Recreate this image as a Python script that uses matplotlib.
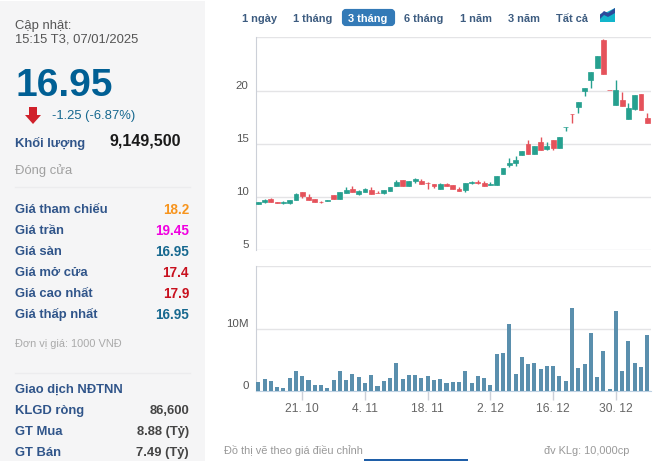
import matplotlib
matplotlib.use('Agg')
import matplotlib.pyplot as plt
from matplotlib.patches import Rectangle, Polygon, FancyBboxPatch

plt.rcParams['font.family'] = ['Liberation Sans', 'DejaVu Sans']

# Candles, 3 months of daily prices
opens = [9.31, 9.50, 9.78, 9.56, 9.40, 9.47, 9.69, 10.47, 10.03, 9.81, 9.56, 9.59, 10.19, 9.78, 10.38, 10.72,
         10.31, 10.50, 10.66, 10.41, 10.38, 10.57, 11.01, 11.60, 11.01, 11.48, 11.54, 11.35, 11.23, 10.72, 11.26, 11.13,
         10.79, 10.63, 11.29, 11.38, 11.32, 11.10, 11.10, 12.14, 13.05, 13.24, 13.93, 14.94, 14.03, 15.13, 14.50, 15.38,
         14.59, 16.54, 17.83, 18.43, 19.94, 21.01, 22.14, 24.75, 20.09, 18.65, 19.15, 17.33, 18.24, 19.72, 17.40]
closes = [9.56, 9.75, 9.50, 9.40, 9.56, 9.72, 10.28, 10.13, 9.69, 9.50, 9.50, 9.75, 9.78, 10.47, 10.69, 10.44,
          10.57, 10.72, 10.25, 10.35, 10.66, 10.94, 11.45, 11.01, 11.51, 11.67, 11.19, 11.29, 11.01, 11.19, 11.01, 10.72,
          10.53, 11.32, 11.42, 11.29, 11.01, 11.26, 12.01, 12.74, 13.21, 13.52, 14.37, 14.03, 14.84, 14.40, 14.75, 14.59,
          15.60, 16.60, 17.77, 18.96, 20.28, 21.73, 23.24, 21.57, 20.03, 20.03, 18.55, 18.33, 19.56, 18.18, 16.95]
highs = [9.56, 9.84, 9.94, 9.56, 9.62, 9.75, 10.38, 10.47, 10.31, 9.81, 9.62, 9.75, 10.19, 10.47, 10.97, 11.07,
         10.66, 10.82, 10.97, 10.60, 10.66, 10.94, 11.64, 11.60, 11.51, 11.79, 11.73, 11.38, 11.23, 11.32, 11.35, 11.13,
         10.94, 11.32, 11.54, 11.60, 11.51, 11.42, 12.01, 12.74, 13.62, 13.81, 14.37, 15.31, 14.84, 15.60, 15.13, 15.38,
         15.60, 16.60, 17.83, 18.96, 20.28, 21.73, 23.24, 24.84, 20.09, 20.97, 19.84, 18.81, 19.56, 19.72, 17.90]
lows = [9.31, 9.43, 9.50, 9.40, 9.37, 9.37, 9.69, 9.94, 9.69, 9.50, 9.43, 9.59, 9.78, 9.78, 10.35, 10.44,
        10.22, 10.44, 10.25, 10.35, 10.25, 10.53, 11.01, 11.01, 11.01, 11.32, 11.19, 10.72, 10.82, 10.72, 11.01, 10.72,
        10.53, 10.44, 11.19, 11.19, 11.01, 11.10, 11.10, 12.14, 12.80, 12.96, 13.93, 14.03, 14.03, 14.40, 14.40, 14.40,
        14.59, 16.19, 16.95, 17.89, 19.47, 20.22, 22.14, 21.57, 20.03, 18.65, 18.55, 17.33, 18.14, 18.18, 16.95]
volumes = [1.46, 1.95, 1.62, 0.65, 0.49, 2.11, 3.24, 2.43, 1.78, 0.97, 0.97, 0.49, 1.78, 3.24, 1.78, 2.76,
           2.27, 1.30, 2.59, 0.81, 1.62, 2.11, 4.54, 1.95, 2.59, 2.59, 2.11, 2.43, 1.78, 1.95, 1.30, 1.46,
           1.46, 3.24, 1.30, 2.43, 2.11, 0.97, 6.00, 6.16, 10.86, 2.76, 5.51, 4.38, 4.54, 3.57, 4.05, 4.05,
           2.43, 1.62, 13.46, 3.73, 4.38, 9.41, 2.27, 6.49, 0.32, 12.97, 3.24, 8.11, 4.54, 3.89, 9.15]

date_ticks = [7, 17, 27, 37, 47, 57]
date_labels = ['21. 10', '4. 11', '18. 11', '2. 12', '16. 12', '30. 12']
price_ticks = [5, 10, 15, 20, 25]
price_labels = ['5', '10', '15', '20', '']

range_tabs = [('1 ngày', 242), ('1 tháng', 293), ('3 tháng', 348), ('6 tháng', 404), ('1 năm', 460), ('3 năm', 508), ('Tất cả', 556)]

# label, value, value colour, y position in the side panel
price_rows = [('Giá tham chiếu', '18.2', '#f7941d', 208),
              ('Giá trần', '19.45', '#f000e0', 229),
              ('Giá sàn', '16.95', '#16688f', 250),
              ('Giá mở cửa', '17.4', '#c8101e', 271),
              ('Giá cao nhất', '17.9', '#c8101e', 292),
              ('Giá thấp nhất', '16.95', '#16688f', 313)]
foreign_rows = [('KLGD ròng', '86,600', 409), ('GT Mua', '8.88 (Tỷ)', 430), ('GT Bán', '7.49 (Tỷ)', 451)]

W, H = 657, 461
GREEN = '#26a08f'
RED = '#e5525b'
GRID = '#e4e4e6'
AXIS = '#ccd0d8'
LABEL = '#30558a'


def px(size):
    return size * 0.72


def place_axes(left, top, right, bottom):
    return fig.add_axes([left / W, 1 - bottom / H, (right - left) / W, (bottom - top) / H])


fig = plt.figure(figsize=(W / 100, H / 100), dpi=100, facecolor='white')

# Page layer in pixel coordinates: side panel, tabs and footer
page = fig.add_axes([0, 0, 1, 1])
page.set_xlim(0, W)
page.set_ylim(H, 0)
page.axis('off')
page.add_patch(Rectangle((0, 1), 205, H, color='#f5f5f6', lw=0))


def put(x, y, s, size=13, color='#333333', weight='normal', ha='left'):
    # centre of the diacritic box sits a little high, hence the nudge
    page.text(x, y + 1.5, s, fontsize=px(size), color=color, fontweight=weight, ha=ha, va='center')


put(15, 24, 'Cập nhật:', 13, '#555555')
put(15, 38, '15:15 T3, 07/01/2025', 13, '#555555')
put(15, 84, '16.95', 39, '#005f94', 'bold')
page.add_patch(Polygon([(29, 107), (37, 107), (37, 115), (41, 115), (33, 124), (25, 115), (29, 115)], color='#d0202a', lw=0))
put(52, 114, '-1.25 (-6.87%)', 13, '#16688f')
put(15, 142, 'Khối lượng', 13, LABEL, 'bold')
put(109, 139, '9,149,500', 16, '#1a1a1a', 'bold')
put(15, 169, 'Đóng cửa', 13, '#a0a0a0')
page.plot([15, 190], [187, 187], color='#ececee', lw=1)
for name, value, colour, y in price_rows:
    put(15, y, name, 13, LABEL, 'bold')
    put(189, y, value, 13.5, colour, 'bold', 'right')
put(15, 342, 'Đơn vị giá: 1000 VNĐ', 11, '#aaaaaa')
page.plot([15, 190], [373, 373], color='#ececee', lw=1)
put(15, 388, 'Giao dịch NĐTNN', 13, LABEL, 'bold')
for name, value, y in foreign_rows:
    put(15, y, name, 13, LABEL, 'bold')
    put(189, y, value, 13, '#444444', 'bold', 'right')

# Range selector
page.add_patch(FancyBboxPatch((344, 11), 49, 13, boxstyle='round,pad=0,rounding_size=2', mutation_aspect=1,
                              facecolor='#337ab7', edgecolor='#337ab7', lw=3))
for name, x in range_tabs:
    active = name == '3 tháng'
    put(x, 17, name, 11, 'white' if active else '#3d5c80', 'bold')
page.add_patch(Polygon([(600, 22), (600, 14), (607, 12), (615, 8), (615, 22)], color='#12b5cb', lw=0))
page.add_patch(Polygon([(600, 15), (604, 11), (608, 13), (615, 8), (615, 13), (608, 17), (604, 15), (600, 19)], color='#2b4a9b', lw=0))

put(224, 449, 'Đồ thị vẽ theo giá điều chỉnh', 11, '#999999')
put(544, 449, 'đv KLg: 10,000cp', 11, '#999999')
page.add_patch(Rectangle((364, 459), 104, 3, color='#1f5fa8', lw=0))

# Price panel
xleft, xright = -0.45, 62.6
ax = place_axes(255.5, 37.3, 651, 250.3)
ax.set_facecolor('none')
ax.set_xlim(xleft, xright)
ax.set_ylim(5, 25)
for i in range(len(opens)):
    colour = GREEN if closes[i] >= opens[i] else RED
    ax.vlines(i, lows[i], highs[i], color=colour, lw=1, zorder=3)
    ax.bar(i, abs(closes[i] - opens[i]), bottom=min(opens[i], closes[i]), width=0.78,
           color=colour, edgecolor=colour, lw=0.5, zorder=4)
ax.set_yticks(price_ticks)
ax.set_yticklabels(price_labels)
ax.set_xticks([])
ax.grid(axis='y', color=GRID, lw=1)
ax.set_axisbelow(True)
for side in ['top', 'right', 'bottom']:
    ax.spines[side].set_visible(False)
ax.spines['left'].set_color(AXIS)
ax.tick_params(axis='y', length=0, pad=5, labelsize=px(11.5), labelcolor='#555555')
for lab in ax.get_yticklabels():
    lab.set_verticalalignment('bottom')

# Volume panel
vol = place_axes(255.5, 266.3, 651, 391)
vol.set_facecolor('none')
vol.set_xlim(xleft, xright)
vol.set_ylim(0, 20.2)
vol.bar(range(len(volumes)), volumes, width=0.64, color='#5a8fad', zorder=3)
vol.set_yticks([0, 10, 20.2])
vol.set_yticklabels(['0', '10M', ''])
vol.set_xticks(date_ticks)
vol.set_xticklabels(date_labels)
vol.grid(axis='y', color=GRID, lw=1)
vol.set_axisbelow(True)
for side in ['top', 'right']:
    vol.spines[side].set_visible(False)
vol.spines['left'].set_color(AXIS)
vol.spines['bottom'].set_color('#bcd0e2')
vol.tick_params(axis='y', length=0, pad=5, labelsize=px(11.5), labelcolor='#555555')
vol.tick_params(axis='x', length=6.5, width=1, color=AXIS, pad=1.9, labelsize=px(12), labelcolor='#666666')
for lab in vol.get_yticklabels():
    lab.set_verticalalignment('bottom')

fig.savefig('out.png', dpi=100)
